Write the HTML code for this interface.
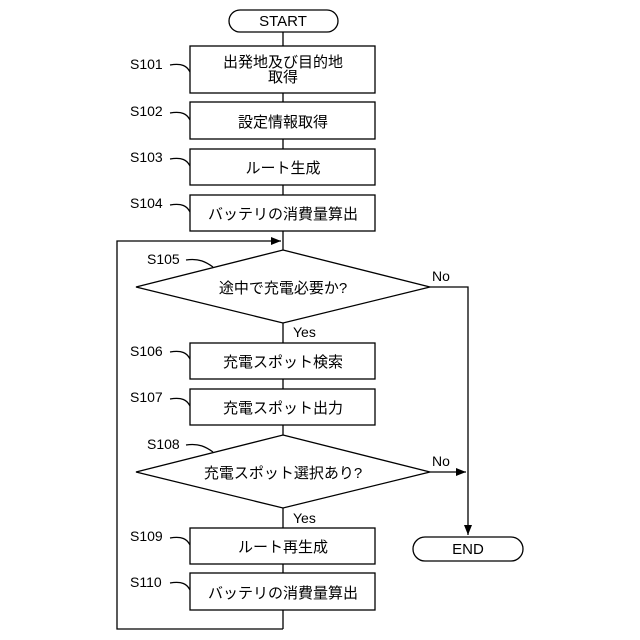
<!DOCTYPE html>
<html><head><meta charset="utf-8"><style>
body{margin:0;background:#fff}
svg{display:block}
text{font-family:"Liberation Sans","Noto Sans CJK JP",sans-serif;fill:#000}
</style></head><body>
<svg width="640" height="640" viewBox="0 0 640 640" xmlns="http://www.w3.org/2000/svg">
<defs><marker id="a" markerWidth="10" markerHeight="8" refX="10" refY="4" orient="auto" markerUnits="userSpaceOnUse"><path d="M0,0 L10,4 L0,8z" fill="#000"/></marker></defs>
<g stroke="#000" stroke-width="1.3" fill="none">
<line x1="283" y1="32" x2="283" y2="250"/>
<line x1="283" y1="323" x2="283" y2="435"/>
<line x1="283" y1="508" x2="283" y2="629"/>
<polyline points="283,629 117,629 117,241 281,241" marker-end="url(#a)"/>
<polyline points="430,287 468,287 468,535" marker-end="url(#a)"/>
<line x1="430" y1="472" x2="466" y2="472" marker-end="url(#a)"/>
<rect x="229" y="10" width="109" height="22" rx="11" fill="#fff"/>
<rect x="413" y="537" width="110" height="24" rx="12" fill="#fff"/>
<rect x="190" y="46" width="185" height="47" fill="#fff"/>
<rect x="190" y="102" width="185" height="37" fill="#fff"/>
<rect x="190" y="149" width="185" height="36" fill="#fff"/>
<rect x="190" y="195" width="185" height="36" fill="#fff"/>
<rect x="190" y="343" width="185" height="36" fill="#fff"/>
<rect x="190" y="389" width="185" height="36" fill="#fff"/>
<rect x="190" y="528" width="185" height="36" fill="#fff"/>
<rect x="190" y="573" width="185" height="37" fill="#fff"/>
<polygon points="283,250 430,287 283,323 136,287" fill="#fff"/>
<polygon points="283,435 430,472 283,508 136,472" fill="#fff"/>
<path d="M170,65 C182,63 187,66 190,72"/>
<path d="M170,113 C182,111 187,114 190,120"/>
<path d="M170,159 C182,157 187,160 190,166"/>
<path d="M170,205 C182,203 187,206 190,212"/>
<path d="M186,260 C199,258 206,262 213,267"/>
<path d="M170,352 C182,350 187,353 190,359"/>
<path d="M170,399 C182,397 187,400 190,406"/>
<path d="M186,445 C199,443 206,447 213,452"/>
<path d="M170,538 C182,536 187,539 190,545"/>
<path d="M170,583 C182,581 187,584 190,590"/>
</g>
<g font-size="15" text-anchor="middle">
<text x="283" y="26">START</text>
<text x="468" y="554">END</text>
<text x="283" y="67">出発地及び目的地</text>
<text x="283" y="82">取得</text>
<text x="283" y="127">設定情報取得</text>
<text x="283" y="173">ルート生成</text>
<text x="283" y="219">バッテリの消費量算出</text>
<text x="283" y="293">途中で充電必要か?</text>
<text x="283" y="367">充電スポット検索</text>
<text x="283" y="413">充電スポット出力</text>
<text x="283" y="478">充電スポット選択あり?</text>
<text x="283" y="552">ルート再生成</text>
<text x="283" y="598">バッテリの消費量算出</text>
</g>
<g font-size="14">
<text x="130" y="69">S101</text>
<text x="130" y="116">S102</text>
<text x="130" y="162">S103</text>
<text x="130" y="208">S104</text>
<text x="147" y="264">S105</text>
<text x="130" y="356">S106</text>
<text x="130" y="402">S107</text>
<text x="147" y="449">S108</text>
<text x="130" y="541">S109</text>
<text x="130" y="587">S110</text>
<text x="432" y="281">No</text>
<text x="432" y="466">No</text>
<text x="293" y="337">Yes</text>
<text x="293" y="523">Yes</text>
</g>
</svg>
</body></html>
